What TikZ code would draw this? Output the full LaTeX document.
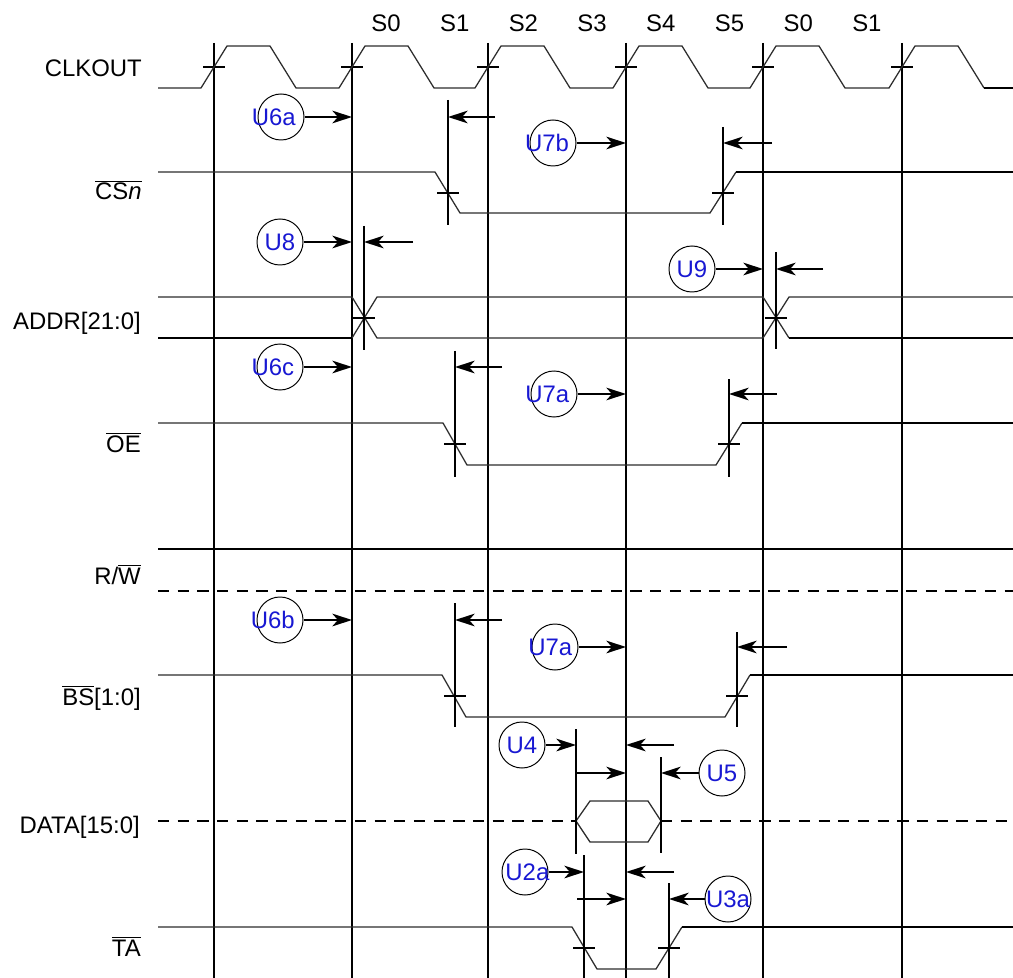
\documentclass[tikz,border=0pt]{standalone}
\usepackage{fontspec}
\setmainfont{Liberation Sans}
\usetikzlibrary{arrows.meta,positioning,calc}
\definecolor{TmBlue}{RGB}{24,24,210}
\definecolor{TmGray}{RGB}{45,45,45}
\tikzset{
  tm/edge/.style={line width=1.6pt, draw=black},
  tm/mark/.style={line width=1.5pt, draw=black},
  tm/wave/.style={line width=0.9pt, draw=TmGray},
  tm/wavebold/.style={line width=1.4pt, draw=black},
  tm/bus/.style={line width=1.4pt, draw=black, dash pattern=on 8pt off 6pt},
  tm/arrow/.style={-{Stealth[length=14pt,width=9pt,inset=4pt]}, line width=1.4pt, draw=black},
  tm/unit/.style={circle, draw=black, line width=0.7pt, minimum size=1.15cm, inner sep=0pt},
  tm/utext/.style={font=\fontsize{17}{20}\selectfont, text=TmBlue, inner sep=0pt, anchor=center},
  tm/signal/.style={font=\fontsize{17}{20}\selectfont, anchor=base east, inner sep=0pt},
  tm/state/.style={font=\fontsize{17}{20}\selectfont, inner sep=0pt}
}
\begin{document}
\begin{tikzpicture}[x=0.025cm,y=-0.025cm]
  \useasboundingbox (0,0) rectangle (1013,978);

  % clock edges and states
  \foreach \e [count=\i] in {214,352,488,626,763,902} {
    \coordinate (e\i) at (\e,43);
    \draw[tm/edge] (e\i) -- (\e,978);
    \draw[tm/mark] (\e-11,67) -- (\e+11,67);
  }
  \foreach \s [count=\i] in {S0,S1,S2,S3,S4,S5,S0,S1}
    \node[tm/state] (s\i) at (386+68.7*\i-68.7,23) {\s};

  % signal names
  \node[tm/signal] (clk) at (142,77) {CLKOUT};
  \node[tm/signal] (cs) at (142,200) {$\overline{\mbox{CS\textit{n}}}$};
  \node[tm/signal] (addr) at (141,329) {ADDR[21:0]};
  \node[tm/signal] (oe) at (141,452) {$\overline{\mbox{OE}}$};
  \node[tm/signal] (rw) at (141,584) {R/$\overline{\mbox{W}}$};
  \node[tm/signal] (bs) at (141,705) {$\overline{\mbox{BS}}$[1:0]};
  \node[tm/signal] (data) at (140,833) {DATA[15:0]};
  \node[tm/signal] (ta) at (141,956) {$\overline{\mbox{TA}}$};

  % waveforms
  \draw[tm/wave] (158,88) foreach \e in {214,352,488,626,763} {
    -- (\e-13,88) -- (\e+13,46) -- (\e+56,46) -- (\e+82,88) }
    -- (889,88) -- (915,46) -- (958,46) -- (984,88);
  \draw[tm/wavebold] (984,88) -- (1013,88);
  \draw[tm/wave] (158,172) -- (435,172) -- (460,213) -- (710,213) -- (736,172);
  \draw[tm/wavebold] (736,172) -- (1013,172);
  \draw[tm/wave] (158,297) -- (352,297) -- (377,338) -- (763,338) -- (789,297) -- (1013,297);
  \draw[tm/wave] (352,338) -- (377,297) -- (763,297) -- (789,338);
  \draw[tm/wavebold] (158,338) -- (352,338);
  \draw[tm/wavebold] (789,338) -- (1013,338);
  \draw[tm/wave] (158,423) -- (443,423) -- (467,465) -- (716,465) -- (742,423);
  \draw[tm/wavebold] (742,423) -- (1013,423);
  \draw[tm/wavebold] (158,549) -- (1013,549);
  \draw[tm/bus] (158,591) -- (1013,591);
  \draw[tm/wave] (158,675) -- (442,675) -- (466,717) -- (725,717) -- (750,675);
  \draw[tm/wavebold] (750,675) -- (1013,675);
  \draw[tm/bus] (158,821) -- (576,821);
  \draw[tm/bus] (661,821) -- (1013,821);
  \draw[tm/wave] (576,821) -- (590,801) -- (648,801) -- (661,821) -- (648,842) -- (590,842) -- cycle;
  \draw[tm/wave] (158,927) -- (572,927) -- (597,969) -- (656,969) -- (682,927);
  \draw[tm/wavebold] (682,927) -- (1013,927);

  % timing markers
  \coordinate (mcs1) at (448,100);
  \coordinate (mcs2) at (723,127);
  \coordinate (mad1) at (364,226);
  \coordinate (mad2) at (776,252);
  \coordinate (moe1) at (455,351);
  \coordinate (moe2) at (729,379);
  \coordinate (mbs1) at (455,603);
  \coordinate (mbs2) at (737,632);
  \coordinate (mda1) at (576,729);
  \coordinate (mda2) at (661,757);
  \coordinate (mta1) at (584,855);
  \coordinate (mta2) at (669,883);
  \draw[tm/mark] (mcs1) -- (448,225);
  \draw[tm/mark] (mcs2) -- (723,225);
  \draw[tm/mark] (mad1) -- (364,350);
  \draw[tm/mark] (mad2) -- (776,349);
  \draw[tm/mark] (moe1) -- (455,477);
  \draw[tm/mark] (moe2) -- (729,477);
  \draw[tm/mark] (mbs1) -- (455,727);
  \draw[tm/mark] (mbs2) -- (737,727);
  \draw[tm/mark] (mda1) -- (576,854);
  \draw[tm/mark] (mda2) -- (661,853);
  \draw[tm/mark] (mta1) -- (584,978);
  \draw[tm/mark] (mta2) -- (669,978);
  \foreach \x/\y in {448/193,723/193,364/318,776/318,455/444,729/444,
                     455/696,737/696,584/948,669/948}
    \draw[tm/mark] (\x-11,\y) -- (\x+11,\y);

  % timing parameters
  \node[tm/unit, label={[tm/utext,xshift=-0.18cm]center:U6a}] (u6a) at (281,117) {};
  \node[tm/unit, label={[tm/utext,xshift=-0.15cm]center:U7b}] (u7b) at (553,143) {};
  \node[tm/unit, label={[tm/utext]center:U8}] (u8) at (280,242) {};
  \node[tm/unit, label={[tm/utext]center:U9}] (u9) at (692,269) {};
  \node[tm/unit, label={[tm/utext,xshift=-0.18cm]center:U6c}] (u6c) at (280,367) {};
  \node[tm/unit, label={[tm/utext,xshift=-0.17cm]center:U7a}] (u7aoe) at (554,394) {};
  \node[tm/unit, label={[tm/utext,xshift=-0.18cm]center:U6b}] (u6b) at (280,620) {};
  \node[tm/unit, label={[tm/utext,xshift=-0.12cm]center:U7a}] (u7abs) at (555,647) {};
  \node[tm/unit, label={[tm/utext]center:U4}] (u4) at (522,745) {};
  \node[tm/unit, label={[tm/utext]center:U5}] (u5) at (722,773) {};
  \node[tm/unit, label={[tm/utext,xshift=0.06cm]center:U2a}] (u2a) at (525,872) {};
  \node[tm/unit, label={[tm/utext]center:U3a}] (u3a) at (728,899) {};

  \draw[tm/arrow] (u6a) -- (e2 |- u6a);
  \draw[tm/arrow] ($(mcs1 |- u6a)+(47,0)$) -- (mcs1 |- u6a);
  \draw[tm/arrow] (u7b) -- (e4 |- u7b);
  \draw[tm/arrow] ($(mcs2 |- u7b)+(49,0)$) -- (mcs2 |- u7b);
  \draw[tm/arrow] (u8) -- (e2 |- u8);
  \draw[tm/arrow] ($(mad1 |- u8)+(49,0)$) -- (mad1 |- u8);
  \draw[tm/arrow] (u9) -- (e5 |- u9);
  \draw[tm/arrow] ($(mad2 |- u9)+(47,0)$) -- (mad2 |- u9);
  \draw[tm/arrow] (u6c) -- (e2 |- u6c);
  \draw[tm/arrow] ($(moe1 |- u6c)+(47,0)$) -- (moe1 |- u6c);
  \draw[tm/arrow] (u7aoe) -- (e4 |- u7aoe);
  \draw[tm/arrow] ($(moe2 |- u7aoe)+(48,0)$) -- (moe2 |- u7aoe);
  \draw[tm/arrow] (u6b) -- (e2 |- u6b);
  \draw[tm/arrow] ($(mbs1 |- u6b)+(47,0)$) -- (mbs1 |- u6b);
  \draw[tm/arrow] (u7abs) -- (e4 |- u7abs);
  \draw[tm/arrow] ($(mbs2 |- u7abs)+(50,0)$) -- (mbs2 |- u7abs);
  \draw[tm/arrow] (u4) -- (mda1 |- u4);
  \draw[tm/arrow] ($(e4 |- u4)+(48,0)$) -- (e4 |- u4);
  \draw[tm/arrow] (mda1 |- u5) -- (e4 |- u5);
  \draw[tm/arrow] (u5) -- (mda2 |- u5);
  \draw[tm/arrow] (u2a) -- (mta1 |- u2a);
  \draw[tm/arrow] ($(e4 |- u2a)+(48,0)$) -- (e4 |- u2a);
  \draw[tm/arrow] ($(mta1 |- u3a)+(-7,0)$) -- (e4 |- u3a);
  \draw[tm/arrow] (u3a) -- (mta2 |- u3a);
\end{tikzpicture}
\end{document}
